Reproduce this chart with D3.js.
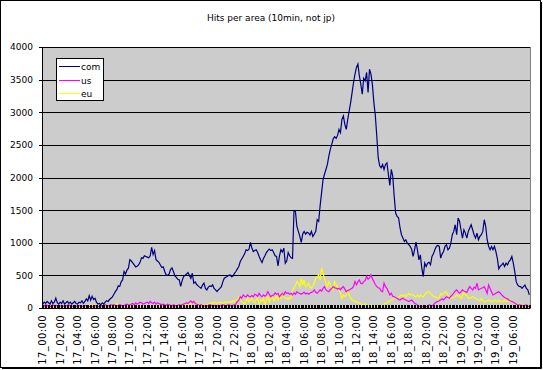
<!DOCTYPE html>
<html>
<head>
<meta charset="utf-8">
<script src="https://cdn.jsdelivr.net/npm/d3@7/dist/d3.min.js"></script>
<style>
  body { margin: 0; background: #fff; }
  text { font-family: "DejaVu Sans", sans-serif; fill: #000; }
</style>
</head>
<body>
<svg id="chart" width="543" height="370"></svg>
<script>
// hits per 10 minutes, 17_00:00 .. 19_07:50 (one row = 2 hours)
var com = [
  60, 90, 70, 100, 80, 60, 110, 70, 90, 150, 80, 60,
  90, 70, 110, 60, 80, 100, 70, 90, 60, 80, 100, 70,
  60, 90, 80, 110, 70, 100, 140, 110, 190, 120, 180, 130,
  150, 90, 60, 70, 50, 80, 60, 90, 110, 100, 130, 150,
  170, 210, 250, 280, 340, 330, 400, 430, 560, 520, 580, 610,
  740, 720, 690, 660, 630, 640, 660, 700, 770, 760, 800, 790,
  780, 770, 800, 930, 820, 880, 740, 720, 700, 660, 620, 630,
  560, 507, 500, 520, 590, 615, 560, 490, 470, 440, 430, 330,
  420, 482, 500, 520, 543, 500, 456, 533, 380, 400, 360, 339,
  320, 302, 350, 380, 300, 277, 320, 339, 330, 354, 300, 277,
  251, 280, 300, 328, 400, 456, 470, 482, 500, 507, 480, 490,
  530, 559, 600, 636, 712, 750, 790, 830, 892, 880, 900, 1005,
  920, 866, 880, 892, 850, 790, 740, 697, 760, 800, 850, 880,
  902, 880, 892, 850, 800, 790, 646, 800, 892, 860, 918, 687,
  720, 850, 800, 770, 760, 1490, 1480, 1250, 1174, 1097, 1005, 1133,
  1174, 1133, 1160, 1150, 1120, 1174, 1097, 1133, 1174, 1353, 1328, 1569,
  1764, 1969, 2050, 2123, 2200, 2328, 2430, 2507, 2594, 2625, 2600, 2645,
  2738, 2686, 2891, 2943, 2815, 2738, 2891, 3020, 3148, 3302, 3456, 3584,
  3686, 3738, 3558, 3430, 3276, 3520, 3482, 3610, 3302, 3660, 3584, 3420,
  3148, 2950, 2635, 2300, 2180, 2148, 2200, 2123, 2200, 2225, 2046, 1880,
  2123, 2020, 1712, 1456, 1404, 1384, 1230, 1123, 1072, 1020, 1046, 995,
  970, 944, 900, 790, 892, 1010, 892, 738, 815, 610, 482, 687,
  636, 687, 700, 661, 790, 830, 892, 944, 960, 944, 764, 830,
  866, 944, 970, 892, 918, 995, 1123, 1174, 1276, 1123, 1379, 1328,
  1199, 1072, 1199, 1148, 1072, 1174, 1225, 1276, 1199, 1123, 1072, 1148,
  1046, 1097, 1123, 1174, 1353, 1250, 1046, 944, 892, 944, 892, 944,
  866, 760, 600, 640, 661, 687, 636, 687, 661, 712, 738, 790,
  687, 559, 404, 353, 330, 329, 302, 329, 353, 300, 278, 200
];
var us = [
  40, 30, 50, 40, 30, 20, 40, 50, 30, 40, 30, 20,
  30, 40, 30, 20, 30, 40, 50, 30, 20, 30, 40, 30,
  20, 30, 40, 30, 20, 30, 40, 30, 20, 30, 20, 30,
  40, 30, 20, 30, 40, 30, 40, 50, 40, 30, 40, 50,
  40, 50, 40, 30, 40, 50, 40, 30, 40, 50, 60, 50,
  40, 60, 70, 50, 80, 60, 70, 90, 80, 60, 70, 80,
  90, 70, 100, 80, 70, 90, 60, 80, 70, 60, 50, 60,
  50, 40, 60, 50, 40, 30, 50, 40, 30, 40, 50, 40,
  50, 60, 70, 80, 70, 90, 110, 80, 100, 70, 60, 50,
  40, 50, 40, 30, 40, 30, 40, 50, 40, 30, 40, 30,
  30, 40, 30, 40, 50, 40, 30, 40, 50, 40, 30, 40,
  50, 60, 100, 120, 172, 150, 200, 180, 170, 200, 180, 170,
  190, 172, 210, 200, 180, 225, 190, 172, 200, 180, 200, 250,
  210, 172, 190, 200, 230, 210, 225, 172, 200, 225, 200, 250,
  225, 230, 210, 225, 200, 230, 210, 250, 230, 225, 210, 225,
  240, 215, 230, 210, 225, 240, 250, 277, 240, 225, 250, 277,
  260, 300, 328, 277, 260, 250, 280, 300, 328, 310, 303, 290,
  303, 280, 310, 328, 290, 250, 270, 277, 290, 303, 330, 405,
  354, 400, 430, 380, 370, 405, 420, 482, 441, 460, 508, 450,
  405, 360, 328, 310, 303, 260, 250, 380, 328, 300, 250, 200,
  225, 180, 172, 160, 150, 130, 123, 140, 150, 130, 123, 110,
  100, 110, 123, 100, 72, 60, 46, 30, 20, 30, 20, 25,
  20, 30, 46, 40, 30, 50, 72, 90, 100, 110, 123, 140,
  123, 150, 172, 160, 150, 180, 200, 230, 260, 277, 250, 225,
  250, 277, 260, 250, 240, 290, 328, 300, 277, 320, 300, 380,
  277, 290, 303, 310, 328, 280, 225, 354, 300, 250, 200, 210,
  225, 240, 250, 230, 200, 180, 160, 150, 140, 123, 110, 100,
  90, 72, 60, 46, 50, 46, 40, 30, 40, 46, 30, 20
];
var eu = [
  20, 30, 10, 40, 20, 30, 10, 20, 40, 30, 20, 10,
  30, 20, 10, 30, 40, 20, 10, 30, 20, 10, 20, 30,
  20, 10, 30, 20, 10, 20, 30, 40, 20, 50, 30, 40,
  50, 30, 40, 20, 40, 50, 30, 40, 50, 30, 40, 50,
  40, 30, 50, 70, 40, 30, 20, 30, 40, 30, 20, 30,
  20, 30, 20, 10, 20, 30, 40, 30, 20, 30, 20, 30,
  20, 30, 40, 30, 20, 30, 20, 40, 30, 20, 30, 40,
  30, 20, 40, 30, 20, 30, 40, 50, 30, 40, 20, 30,
  40, 50, 40, 60, 50, 70, 60, 70, 80, 60, 70, 60,
  50, 40, 60, 50, 40, 50, 60, 70, 80, 70, 90, 80,
  70, 80, 90, 85, 70, 80, 97, 85, 90, 100, 85, 110,
  100, 120, 110, 172, 120, 100, 80, 60, 100, 150, 90, 120,
  150, 100, 80, 130, 150, 60, 120, 100, 150, 46, 130, 172,
  90, 150, 172, 110, 140, 180, 120, 190, 150, 200, 170, 150,
  148, 130, 160, 148, 277, 300, 350, 405, 380, 328, 456, 354,
  430, 328, 350, 380, 320, 303, 340, 380, 456, 470, 508, 430,
  610, 533, 456, 380, 328, 405, 360, 303, 277, 405, 354, 328,
  277, 225, 148, 200, 174, 200, 277, 200, 160, 123, 110, 97,
  97, 80, 72, 60, 46, 55, 61, 40, 20, 30, 46, 30,
  20, 25, 20, 31, 40, 30, 46, 60, 72, 80, 97, 110,
  123, 130, 148, 160, 150, 174, 180, 200, 174, 200, 174, 200,
  225, 200, 210, 200, 180, 170, 200, 165, 200, 180, 170, 200,
  225, 240, 250, 220, 200, 180, 174, 160, 148, 160, 225, 200,
  225, 250, 240, 200, 174, 150, 148, 160, 174, 200, 174, 200,
  148, 180, 250, 200, 200, 150, 148, 160, 174, 160, 148, 130,
  123, 110, 148, 120, 97, 100, 110, 123, 97, 110, 97, 123,
  110, 97, 123, 97, 110, 97, 123, 97, 110, 97, 123, 97,
  80, 72, 60, 46, 40, 60, 46, 30, 40, 20, 30, 20
];
var seriesNames = ["com", "us", "eu"];
var seriesColors = ["#000080", "#ff00ff", "#ffff00"];
var yTicks = [0, 500, 1000, 1500, 2000, 2500, 3000, 3500, 4000];
var xLabels = ["17_00:00", "17_02:00", "17_04:00", "17_06:00", "17_08:00", "17_10:00",
  "17_12:00", "17_14:00", "17_16:00", "17_18:00", "17_20:00", "17_22:00",
  "18_00:00", "18_02:00", "18_04:00", "18_06:00", "18_08:00", "18_10:00",
  "18_12:00", "18_14:00", "18_16:00", "18_18:00", "18_20:00", "18_22:00",
  "19_00:00", "19_02:00", "19_04:00", "19_06:00"];
var labelEvery = 12;

var svg = d3.select("#chart"),
    plot = {left: 42, right: 530, top: 47, bottom: 308};

// chart area border (heavier on right/bottom like the original)
svg.append("rect").attr("x", 0.5).attr("y", 0.5).attr("width", 540).attr("height", 367)
  .attr("fill", "#fff").attr("stroke", "#000");
svg.append("path").attr("d", "M541.5,2V368.5H2").attr("fill", "none").attr("stroke", "#000");

svg.append("text").attr("x", 271).attr("y", 21).attr("text-anchor", "middle")
  .style("font-size", "9px").text("Hits per area (10min, not jp)");

var x = d3.scaleBand().domain(d3.range(com.length)).range([plot.left, plot.right]);
var y = d3.scaleLinear().domain([0, 4000]).range([plot.bottom, plot.top]);
var cx = function(i) { return x(i) + x.bandwidth() / 2; };

// plot background
svg.append("rect").attr("x", plot.left).attr("y", plot.top + 0.5)
  .attr("width", plot.right - plot.left).attr("height", plot.bottom - plot.top)
  .attr("fill", "#cccccc").attr("stroke", "#808080").attr("shape-rendering", "crispEdges");

// gridlines + y axis
var yAxis = d3.axisLeft(y).tickValues(yTicks).tickSize(plot.right - plot.left + 3)
  .tickPadding(6).tickFormat(d3.format("d"));
var gy = svg.append("g").attr("transform", "translate(" + plot.right + ",0)").call(yAxis);
gy.select(".domain").remove();
gy.selectAll("line").attr("stroke", "#000").attr("shape-rendering", "crispEdges");
gy.selectAll("line").filter(function(d) { return d === 0; }).remove();
gy.selectAll("text").attr("x", -(plot.right - plot.left + 9))
  .style("font-size", "9px").style("font-family", "DejaVu Sans");

// lines
var line = d3.line().x(function(d, i) { return cx(i); }).y(function(d) { return y(d); });
var series = [com, us, eu];
svg.append("g").selectAll("path").data([2, 1, 0]).enter().append("path")
  .attr("d", function(k) { return line(series[k]); })
  .attr("fill", "none").attr("stroke", function(k) { return seriesColors[k]; })
  .attr("stroke-width", 1.2).attr("stroke-linejoin", "miter");

// x axis: tick marks every category, inside
var gx = svg.append("g");
gx.selectAll("line.t").data(d3.range(com.length + 1)).enter().append("line")
  .attr("x1", function(i) { return Math.round(plot.left + i * x.step()) + 0.5; })
  .attr("x2", function(i) { return Math.round(plot.left + i * x.step()) + 0.5; })
  .attr("y1", plot.bottom - 3).attr("y2", plot.bottom)
  .attr("stroke", "#000").attr("shape-rendering", "crispEdges");
gx.append("line").attr("x1", plot.left - 3).attr("x2", plot.right).attr("y1", plot.bottom + 0.5).attr("y2", plot.bottom + 0.5)
  .attr("stroke", "#000").attr("shape-rendering", "crispEdges");
// y axis line
svg.append("line").attr("x1", plot.left + 0.5).attr("x2", plot.left + 0.5).attr("y1", plot.top).attr("y2", plot.bottom)
  .attr("stroke", "#000").attr("shape-rendering", "crispEdges");

gx.selectAll("text").data(xLabels).enter().append("text")
  .attr("transform", function(d, k) { return "translate(" + cx(k * labelEvery) + "," + (plot.bottom + 7) + ") rotate(-90)"; })
  .attr("text-anchor", "end").attr("dy", "0.35em")
  .style("font-size", "10px").style("letter-spacing", "0.4px").text(function(d) { return d; });

// legend
var lg = svg.append("g").attr("transform", "translate(56,58)");
lg.append("rect").attr("x", 0.5).attr("y", 0.5).attr("width", 47).attr("height", 42)
  .attr("fill", "#fff").attr("stroke", "#000").attr("shape-rendering", "crispEdges");
var item = lg.selectAll("g.item").data(seriesNames).enter().append("g")
  .attr("transform", function(d, k) { return "translate(0," + Math.round(8 + k * 13.5) + ")"; });
item.append("line").attr("x1", 3).attr("x2", 24).attr("y1", 0.5).attr("y2", 0.5)
  .attr("stroke", function(d, k) { return seriesColors[k]; }).attr("stroke-width", 1)
  .attr("shape-rendering", "crispEdges");
item.append("text").attr("x", 25).attr("y", 3.5).style("font-size", "9px").text(function(d) { return d; });
</script>
</body>
</html>
